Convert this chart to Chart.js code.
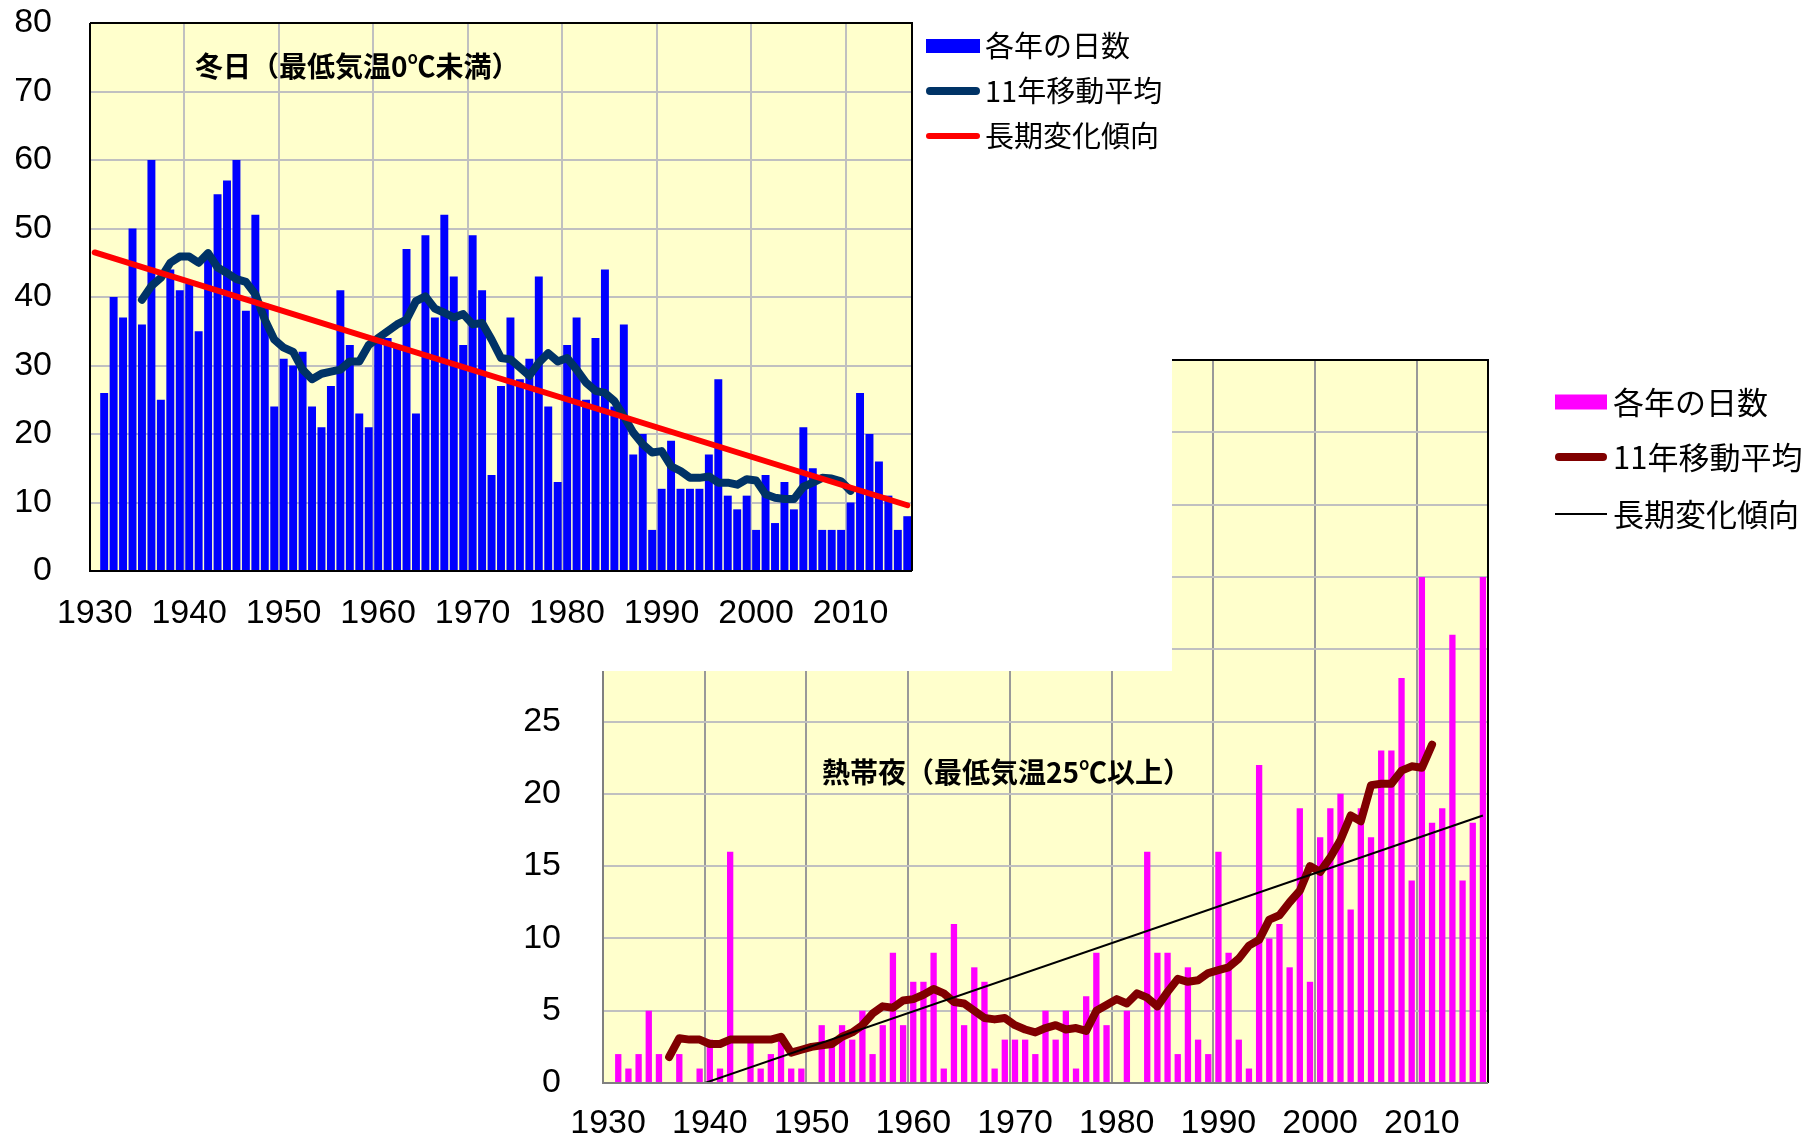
<!DOCTYPE html>
<html>
<head>
<meta charset="utf-8">
<script src="https://cdn.jsdelivr.net/npm/chart.js@4.4.1/dist/chart.umd.min.js"></script>
<style>
body { margin: 0; background: #fff; width: 1806px; height: 1140px; position: relative; overflow: hidden; }
canvas { position: absolute; left: 0; top: 0; }
#nights { z-index: 1; }
#winter { z-index: 2; }
</style>
</head>
<body>
<canvas id="nights" width="1806" height="1140"></canvas>
<canvas id="winter" width="1172" height="671"></canvas>
<script>
// years on the category axis, 1930 has no value
const years = Array.from({length: 87}, (_, i) => String(1930 + i));

// 冬日 (days with min temp < 0℃), 1930..2016
const winterDays = [null,
  26, 40, 37, 50, 36, 60, 25, 44, 41, 42,
  35, 46, 55, 57, 60, 38, 52, 39, 24, 31,
  30, 32, 24, 21, 27, 41, 33, 23, 21, 34,
  34, 33, 47, 23, 49, 37, 52, 43, 33, 49,
  41, 14, 27, 37, 28, 31, 43, 24, 13, 33,
  37, 25, 34, 44, 24, 36, 17, 20, 6, 12,
  19, 12, 12, 12, 17, 28, 11, 9, 11, 6,
  14, 7, 13, 9, 21, 15, 6, 6, 6, 10,
  26, 20, 16, 11, 6, 8];
// 11-year moving average, 1935..2010
const winterAvgStart = 1935;
const winterAvg = [
  39.6, 41.6, 42.8, 45.0, 45.9, 45.9, 45.0, 46.4, 44.3, 43.5,
  42.6, 42.2, 40.4, 36.7, 33.8, 32.6, 32.0, 29.4, 28.0, 28.8,
  29.1, 29.4, 30.6, 30.6, 33.0, 34.0, 35.0, 36.0, 36.7, 39.4,
  40.1, 38.3, 37.7, 37.0, 37.5, 36.0, 36.2, 33.8, 31.1, 30.9,
  29.7, 28.5, 30.4, 31.8, 30.6, 31.1, 29.4, 27.5, 26.3, 26.0,
  24.8, 22.6, 20.2, 18.5, 17.3, 17.5, 15.3, 14.6, 13.6, 13.6,
  13.8, 12.9, 12.9, 12.6, 13.4, 13.2, 11.2, 10.7, 10.5, 10.5,
  12.3, 12.9, 13.6, 13.5, 13.1, 11.7];
// long-term trend, ends read at 1930 and 2016
const winterTrendYears = ['1930', '2016'];
const winterTrend = [46.5, 9.6];

// 熱帯夜 (nights with min temp >= 25℃), 1930..2016
const tropicalNights = [null,
  2, 1, 2, 5, 2, 0, 2, 0, 1, 3,
  1, 16, 0, 3, 1, 2, 3, 1, 1, 0,
  4, 3, 4, 3, 5, 2, 4, 9, 4, 7,
  7, 9, 1, 11, 4, 8, 7, 1, 3, 3,
  3, 2, 5, 3, 5, 1, 6, 9, 4, 0,
  5, 0, 16, 9, 9, 2, 8, 3, 2, 16,
  9, 3, 1, 22, 10, 11, 8, 19, 7, 17,
  19, 20, 12, 19, 17, 23, 23, 28, 14, 35,
  18, 19, 31, 14, 18, 35];
// 11-year moving average, 1936..2011
const tropicalAvgStart = 1936;
const tropicalAvg = [
  1.8, 3.1, 3.0, 3.0, 2.7, 2.7, 3.0, 3.0, 3.0, 3.0,
  3.0, 3.2, 2.1, 2.3, 2.5, 2.6, 2.7, 3.2, 3.5, 4.0,
  4.8, 5.3, 5.2, 5.7, 5.8, 6.1, 6.5, 6.2, 5.6, 5.5,
  5.0, 4.5, 4.4, 4.5, 4.0, 3.7, 3.5, 3.8, 4.0, 3.7,
  3.8, 3.6, 5.0, 5.4, 5.8, 5.5, 6.2, 5.9, 5.3, 6.3,
  7.2, 7.0, 7.1, 7.6, 7.8, 8.0, 8.6, 9.5, 9.9, 11.3,
  11.6, 12.5, 13.3, 15.0, 14.6, 15.6, 16.8, 18.5, 18.1, 20.6,
  20.7, 20.7, 21.6, 21.9, 21.8, 23.4];
const tropicalTrendYears = ['1930', '2016'];
const tropicalTrend = [-2.3, 18.5];

const tickFont = {family: '"Liberation Sans", Arial, sans-serif', size: 34};
const jp = '"Noto Sans CJK JP", sans-serif';

function padded(values, start) {
  const out = years.map(() => null);
  values.forEach((v, i) => { out[start - 1930 + i] = v; });
  return out;
}

function xTicks(label) {
  return label % 10 === 0 ? label : '';
}

// fixed axis size, and no extra room for label overflow
function fixed(w, h) {
  return s => {
    if (w) s.width = w;
    if (h) s.height = h;
    s.paddingTop = s.paddingBottom = s.paddingLeft = s.paddingRight = 0;
  };
}

// plot background, frame, title and legend
const decor = {
  id: 'decor',
  beforeDraw(chart, args, o) {
    const {ctx, chartArea: a} = chart;
    ctx.save();
    if (o.white) {
      ctx.fillStyle = '#fff';
      ctx.fillRect(0, 0, chart.width, chart.height);
    }
    ctx.fillStyle = '#FFFFCC';
    ctx.fillRect(a.left, a.top, a.right - a.left, a.bottom - a.top);
    ctx.restore();
  },
  afterDatasetsDraw(chart, args, o) {
    const {ctx, chartArea: a} = chart;
    ctx.save();
    ctx.lineWidth = 2;
    ctx.strokeStyle = '#000';
    ctx.beginPath();
    ctx.moveTo(a.left, a.top); ctx.lineTo(a.right, a.top); ctx.lineTo(a.right, a.bottom);
    ctx.stroke();
    ctx.strokeStyle = o.axisColor;
    ctx.beginPath();
    ctx.moveTo(a.left, a.top); ctx.lineTo(a.left, a.bottom); ctx.lineTo(a.right, a.bottom);
    ctx.stroke();

    ctx.fillStyle = '#000';
    ctx.textBaseline = 'middle';
    ctx.font = 'bold ' + o.titleSize + 'px ' + jp;
    ctx.fillText(o.title, o.titleX, o.titleY);

    ctx.font = o.legendSize + 'px ' + jp;
    const ds = chart.data.datasets;
    o.legendY.forEach((y, i) => {
      const d = ds[i];
      if (d.type === 'bar') {
        ctx.fillStyle = d.backgroundColor;
        ctx.fillRect(o.legendX[0], y - o.boxH / 2, o.legendX[1] - o.legendX[0], o.boxH);
      } else {
        const w = d.borderWidth;
        ctx.strokeStyle = d.borderColor;
        ctx.lineWidth = w;
        ctx.lineCap = w > 3 ? 'round' : 'butt';
        const inset = w > 3 ? w / 2 : 0;
        ctx.beginPath();
        ctx.moveTo(o.legendX[0] + inset, y);
        ctx.lineTo(o.legendX[1] - inset, y);
        ctx.stroke();
      }
      ctx.fillStyle = '#000';
      ctx.fillText(d.label, o.textX, y);
    });
    ctx.restore();
  }
};

new Chart(document.getElementById('winter'), {
  type: 'bar',
  data: {
    labels: years,
    datasets: [{
      type: 'bar',
      label: '各年の日数',
      data: winterDays,
      backgroundColor: '#0000FF',
      categoryPercentage: 1,
      barPercentage: 0.84,
      order: 2
    }, {
      type: 'line',
      label: '11年移動平均',
      data: padded(winterAvg, winterAvgStart),
      borderColor: '#003366',
      borderWidth: 8,
      borderCapStyle: 'round',
      borderJoinStyle: 'round',
      pointRadius: 0,
      order: 1
    }, {
      type: 'line',
      label: '長期変化傾向',
      data: winterTrendYears.map((y, i) => ({x: y, y: winterTrend[i]})),
      borderColor: '#FF0000',
      borderWidth: 6,
      borderCapStyle: 'round',
      pointRadius: 0,
      order: 0
    }]
  },
  options: {
    responsive: false,
    animation: false,
    layout: {autoPadding: false, padding: {left: 0, top: 23, right: 260, bottom: 0}},
    plugins: {
      legend: {display: false},
      tooltip: {enabled: false},
      decor: {
        white: true, axisColor: '#000',
        title: '冬日（最低気温0℃未満）', titleX: 195, titleY: 66, titleSize: 28,
        legendX: [926, 980], legendY: [46, 91, 136], boxH: 14, textX: 985, legendSize: 29
      }
    },
    scales: {
      x: {
        offset: true,
        grid: {
          offset: true, drawTicks: false, lineWidth: 2,
          color: c => (c.index > 0 && c.index % 10 === 0) ? '#C0C0C0' : 'rgba(0,0,0,0)'
        },
        border: {display: false},
        ticks: {
          autoSkip: false, maxRotation: 0, padding: 22, font: tickFont, color: '#000',
          callback(v) { return xTicks(this.getLabelForValue(v)); }
        },
        afterFit: fixed(0, 100)
      },
      y: {
        min: 0, max: 80,
        grid: {drawTicks: false, color: '#C0C0C0', lineWidth: 2},
        border: {display: false},
        ticks: {stepSize: 10, padding: 38, font: tickFont, color: '#000'},
        afterFit: fixed(90, 0)
      }
    }
  },
  plugins: [decor]
});

new Chart(document.getElementById('nights'), {
  type: 'bar',
  data: {
    labels: years,
    datasets: [{
      type: 'bar',
      label: '各年の日数',
      data: tropicalNights,
      backgroundColor: '#FF00FF',
      categoryPercentage: 1,
      barPercentage: 0.62,
      order: 2
    }, {
      type: 'line',
      label: '11年移動平均',
      data: padded(tropicalAvg, tropicalAvgStart),
      borderColor: '#800000',
      borderWidth: 8,
      borderCapStyle: 'round',
      borderJoinStyle: 'round',
      pointRadius: 0,
      order: 1
    }, {
      type: 'line',
      label: '長期変化傾向',
      data: tropicalTrendYears.map((y, i) => ({x: y, y: tropicalTrend[i]})),
      borderColor: '#000000',
      borderWidth: 2,
      pointRadius: 0,
      order: 0
    }]
  },
  options: {
    responsive: false,
    animation: false,
    layout: {autoPadding: false, padding: {left: 0, top: 360, right: 318, bottom: 0}},
    plugins: {
      legend: {display: false},
      tooltip: {enabled: false},
      decor: {
        white: false, axisColor: '#808080',
        title: '熱帯夜（最低気温25℃以上）', titleX: 822, titleY: 772, titleSize: 28,
        legendX: [1555, 1607], legendY: [402, 457, 514], boxH: 15, textX: 1613, legendSize: 31
      }
    },
    scales: {
      x: {
        offset: true,
        grid: {
          offset: true, drawTicks: false, lineWidth: 2,
          color: c => (c.index > 0 && c.index % 10 === 0) ? '#999999' : 'rgba(0,0,0,0)'
        },
        border: {display: false},
        ticks: {
          autoSkip: false, maxRotation: 0, padding: 20, font: tickFont, color: '#000',
          callback(v) { return xTicks(this.getLabelForValue(v)); }
        },
        afterFit: fixed(0, 57)
      },
      y: {
        min: 0, max: 50,
        grid: {drawTicks: false, color: '#C0C0C0', lineWidth: 2},
        border: {display: false},
        ticks: {stepSize: 5, padding: 42, font: tickFont, color: '#000'},
        afterFit: fixed(603, 0)
      }
    }
  },
  plugins: [decor]
});
</script>
</body>
</html>
